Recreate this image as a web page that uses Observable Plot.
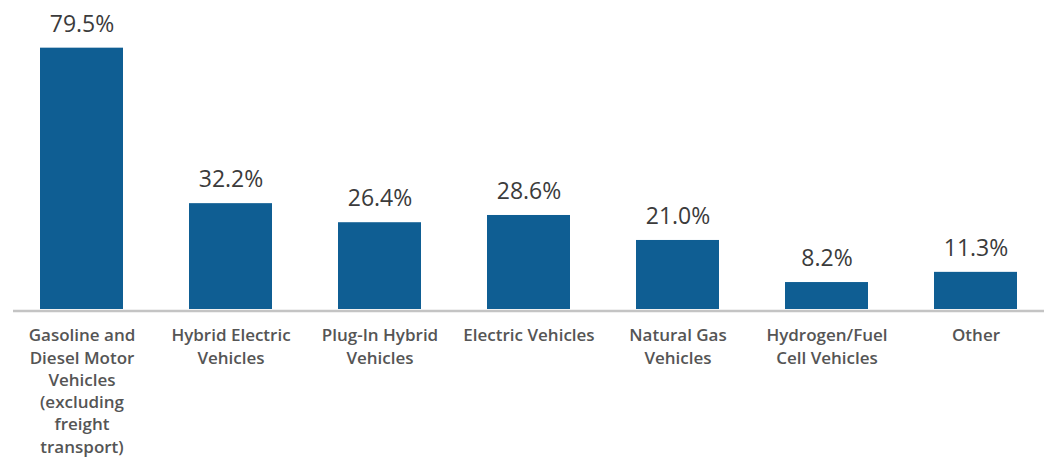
<!DOCTYPE html>
<html><head><meta charset="utf-8">
<script src="https://cdn.jsdelivr.net/npm/d3@7"></script>
<script src="https://cdn.jsdelivr.net/npm/@observablehq/plot@0.6"></script>
<style>body{margin:0;background:#fff}#chart svg{display:block}</style>
</head><body><div id="chart"></div>
<script>
const categories = [
  "Gasoline and\nDiesel Motor\nVehicles\n(excluding\nfreight\ntransport)",
  "Hybrid Electric\nVehicles",
  "Plug-In Hybrid\nVehicles",
  "Electric Vehicles",
  "Natural Gas\nVehicles",
  "Hydrogen/Fuel\nCell Vehicles",
  "Other"
];
const values = [79.5, 32.2, 26.4, 28.6, 21.0, 8.2, 11.3];
const data = categories.map((c, i) => ({c, v: values[i]}));

const chart = Plot.plot({
  width: 1044, height: 458,
  marginLeft: 13, marginRight: 0, marginTop: 0, marginBottom: 149,
  style: {fontFamily: "'Open Sans', sans-serif", background: "#fff"},
  x: {domain: categories, paddingInner: 0.443, paddingOuter: 0.181, axis: null},
  y: {domain: [0, 94.0], axis: null},
  marks: [
    Plot.barY(data, {x: "c", y: "v", fill: "#0f5e93"}),
    Plot.ruleY([0], {stroke: "#c4c4c4", strokeWidth: 2.5, dy: 1.5}),
    Plot.text(data, {x: "c", y: "v", text: d => d.v.toFixed(1) + "%", dy: -24, fontSize: 23, fill: "#3b3b3b", fontWeight: 500}),
    Plot.text(data, {x: "c", y: 0, text: "c", lineAnchor: "top", dy: 16, fontSize: 17, lineHeight: 1.31, fill: "#555", fontWeight: 600})
  ]
});
document.getElementById("chart").appendChild(chart);
</script>
</body></html>
